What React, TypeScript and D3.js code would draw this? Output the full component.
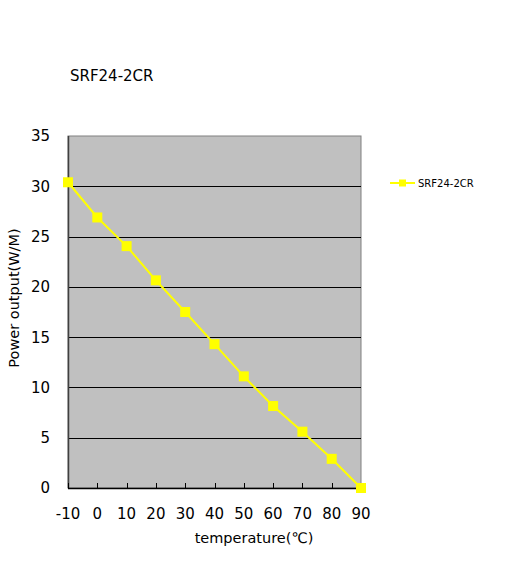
import React, { useEffect, useRef } from "react";
import * as d3 from "d3";

const temperatures = [-10, 0, 10, 20, 30, 40, 50, 60, 70, 80, 90];
const powerOutput = [30.4, 26.9, 24.05, 20.65, 17.5, 14.3, 11.1, 8.15, 5.6, 2.9, 0];
const yTicks = [0, 5, 10, 15, 20, 25, 30, 35];
const seriesName = "SRF24-2CR";
const chartTitle = "SRF24-2CR";
const xTitle = "temperature(℃)";
const yTitle = "Power output(W/M)";

const W = 511, H = 562;
const M = { left: 68, right: 361, top: 136, bottom: 488 };
const FONT = "DejaVu Sans, sans-serif";

export default function App() {
  const ref = useRef<SVGSVGElement>(null);
  useEffect(() => {
    const svg = d3.select(ref.current);
    svg.selectAll("*").remove();
    const x = d3.scalePoint<number>().domain(temperatures).range([M.left, M.right]);
    const y = d3.scaleLinear().domain([0, 35]).range([M.bottom, M.top]);

    svg.append("rect").attr("width", W).attr("height", H).attr("fill", "#fff");
    svg.append("rect")
      .attr("x", M.left).attr("y", M.top)
      .attr("width", M.right - M.left).attr("height", M.bottom - M.top)
      .attr("fill", "#c0c0c0").attr("stroke", "#808080").attr("stroke-width", 1);

    // gridlines
    svg.append("g").selectAll("line").data(yTicks.filter(t => t > 0 && t < 35)).join("line")
      .attr("x1", M.left).attr("x2", M.right)
      .attr("y1", d => Math.round(y(d)) + 0.5).attr("y2", d => Math.round(y(d)) + 0.5)
      .attr("stroke", "#000").attr("stroke-width", 1);

    // y axis line
    svg.append("line").attr("x1", M.left + 0.5).attr("x2", M.left + 0.5)
      .attr("y1", M.top).attr("y2", M.bottom).attr("stroke", "#404040").attr("stroke-width", 1.5);
    // x axis line
    svg.append("line").attr("x1", M.left).attr("x2", M.right)
      .attr("y1", M.bottom + 0.5).attr("y2", M.bottom + 0.5).attr("stroke", "#000").attr("stroke-width", 1.5);
    // x ticks (inward)
    svg.append("g").selectAll("line").data(temperatures).join("line")
      .attr("x1", d => Math.round(x(d)!) + 0.5).attr("x2", d => Math.round(x(d)!) + 0.5)
      .attr("y1", M.bottom).attr("y2", M.bottom - 5)
      .attr("stroke", "#000").attr("stroke-width", 1);

    // y labels
    svg.append("g").selectAll("text").data(yTicks).join("text")
      .attr("x", 50).attr("y", d => y(d)).attr("dy", "0.36em")
      .attr("text-anchor", "end").attr("font-family", FONT).attr("font-size", 15)
      .attr("fill", "#000").text(d => d);
    // x labels
    svg.append("g").selectAll("text").data(temperatures).join("text")
      .attr("x", d => x(d)!).attr("y", 519)
      .attr("text-anchor", "middle").attr("font-family", FONT).attr("font-size", 15)
      .attr("fill", "#000").text(d => d);

    // titles
    svg.append("text").attr("x", 70).attr("y", 81).attr("font-family", FONT).attr("font-size", 15)
      .attr("fill", "#000").text(chartTitle);
    svg.append("text").attr("x", 254).attr("y", 543).attr("text-anchor", "middle")
      .attr("font-family", FONT).attr("font-size", 14.5).attr("fill", "#000").text(xTitle);
    svg.append("text").attr("transform", `translate(19, 298) rotate(-90)`)
      .attr("text-anchor", "middle").attr("font-family", FONT).attr("font-size", 14.5)
      .attr("fill", "#000").text(yTitle);

    // series line
    const line = d3.line<number>().x((_, i) => x(temperatures[i])!).y(d => y(d));
    svg.append("path").datum(powerOutput).attr("d", line)
      .attr("fill", "none").attr("stroke", "#ffff00").attr("stroke-width", 2);
    svg.append("g").selectAll("rect").data(powerOutput).join("rect")
      .attr("x", (_, i) => x(temperatures[i])! - 5).attr("y", d => y(d) - 5)
      .attr("width", 10).attr("height", 10).attr("fill", "#ffff00");

    // legend
    const ly = 183;
    svg.append("line").attr("x1", 390).attr("x2", 415).attr("y1", ly).attr("y2", ly)
      .attr("stroke", "#ffff00").attr("stroke-width", 2);
    svg.append("rect").attr("x", 399).attr("y", ly - 3.5).attr("width", 7).attr("height", 7).attr("fill", "#ffff00");
    svg.append("text").attr("x", 418).attr("y", ly).attr("dy", "0.36em")
      .attr("font-family", FONT).attr("font-size", 10).attr("fill", "#000").text(seriesName);
  }, []);
  return (
    <svg ref={ref} width={W} height={H} style={{ position: "absolute", left: 0, top: 0 }} />
  );
}
